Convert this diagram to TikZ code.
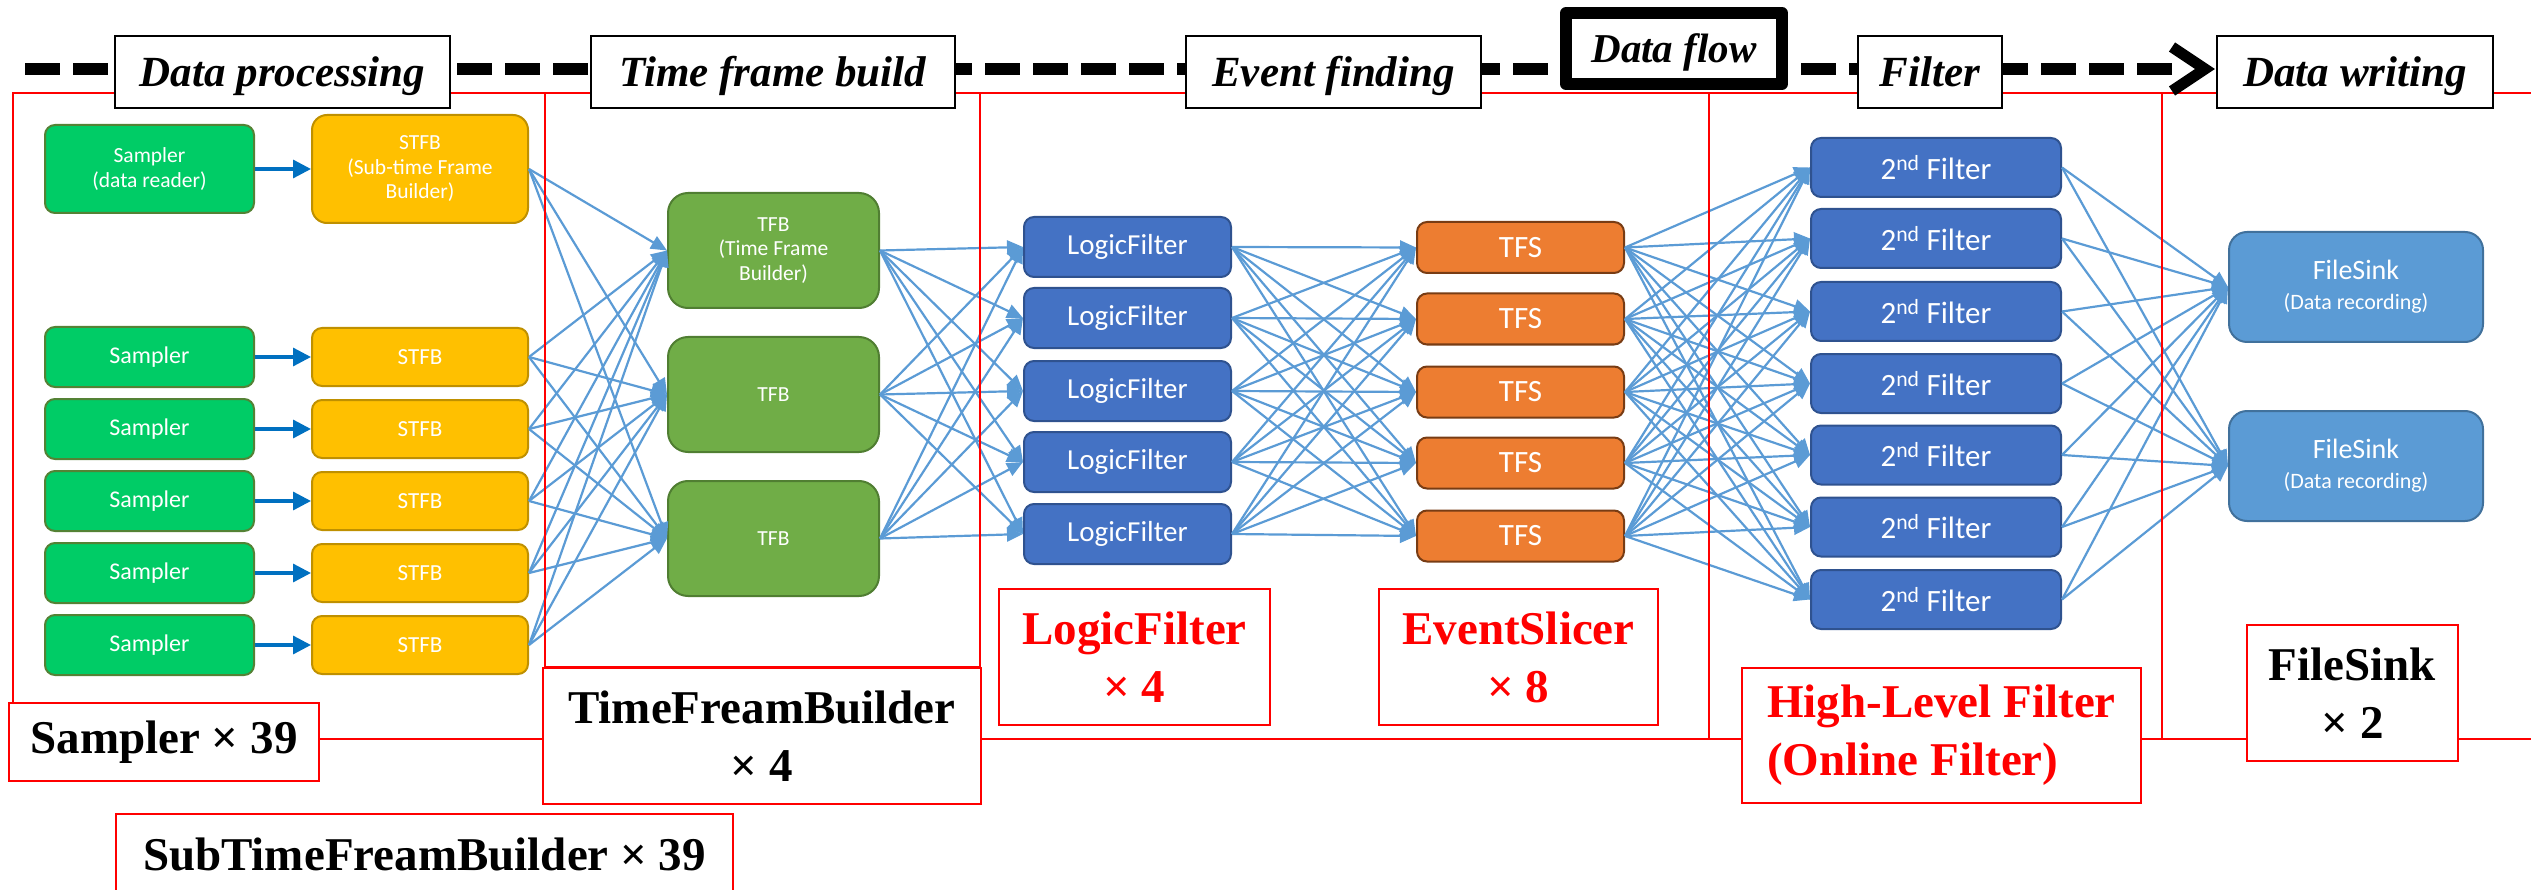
\documentclass[tikz,border=0pt]{standalone}
\usepackage{fontspec}
\setmainfont{Liberation Serif}
\newfontfamily\calfont{Carlito}
\usetikzlibrary{arrows.meta}

\definecolor{smpfill}{RGB}{0,204,102}
\definecolor{smpdraw}{RGB}{84,130,53}
\definecolor{stfbfill}{RGB}{255,192,0}
\definecolor{stfbdraw}{RGB}{191,144,0}
\definecolor{tfbfill}{RGB}{112,173,71}
\definecolor{tfbdraw}{RGB}{80,126,50}
\definecolor{lffill}{RGB}{68,114,196}
\definecolor{lfdraw}{RGB}{47,82,143}
\definecolor{tfsfill}{RGB}{237,125,49}
\definecolor{tfsdraw}{RGB}{120,60,20}
\definecolor{fsfill}{RGB}{91,155,213}
\definecolor{fsdraw}{RGB}{65,113,156}
\definecolor{connblue}{RGB}{91,155,213}
\definecolor{arrblue}{RGB}{0,112,192}

\begin{document}
\begin{tikzpicture}[x=1pt,y=-1pt,
  box/.style={rectangle, rounded corners=10pt, line width=2pt, inner sep=0pt,
    text=white, align=center},
  smp/.style={box, fill=smpfill, draw=smpdraw, minimum width=209pt, minimum height=60pt,
    font=\calfont\fontsize{24}{26}\selectfont},
  stfb/.style={box, fill=stfbfill, draw=stfbdraw, minimum width=216pt, minimum height=58pt,
    font=\calfont\fontsize{23}{25}\selectfont},
  tfb/.style={box, rounded corners=20pt, fill=tfbfill, draw=tfbdraw, minimum width=211pt,
    minimum height=115pt, font=\calfont\fontsize{21.5}{24.5}\selectfont},
  lf/.style={box, fill=lffill, draw=lfdraw, minimum width=207pt, minimum height=60pt,
    font=\calfont\fontsize{29}{31}\selectfont},
  tfs/.style={box, fill=tfsfill, draw=tfsdraw, minimum width=207pt, minimum height=51pt,
    font=\calfont\fontsize{31}{33}\selectfont},
  snd/.style={box, fill=lffill, draw=lfdraw, minimum width=250pt, minimum height=59pt,
    font=\calfont\fontsize{31}{33}\selectfont},
  fsk/.style={box, rounded corners=18pt, fill=fsfill, draw=fsdraw, minimum width=254pt,
    minimum height=110pt, font=\calfont\fontsize{28}{30}\selectfont},
  conn/.style={draw=connblue, line width=2.2pt, -{Triangle[length=16pt,width=14pt]}},
  sarr/.style={draw=arrblue, line width=3.3pt, -{Triangle[length=18pt,width=18pt]}},
  redline/.style={draw=red, line width=2.5pt},
  hdr/.style={rectangle, draw=black, line width=2pt, fill=white, inner sep=0pt,
    minimum height=72pt, text height=32pt, text depth=2pt,
    font=\bfseries\itshape\fontsize{43}{50}\selectfont},
  lbl/.style={rectangle, draw=red, line width=2.5pt, fill=white, inner sep=0pt,
    align=center, font=\bfseries\fontsize{47}{58}\selectfont},
  flowline/.style={draw=black, line width=12pt, dash pattern=on 35pt off 13pt}
]
\useasboundingbox (0,0) rectangle (2531,890);

% ---- Samplers and STFBs
\node[smp, minimum height=88pt, font=\calfont\fontsize{21.5}{24.5}\selectfont] (a1) at (149.5,169) {Sampler\\(data reader)};
\node[stfb, minimum height=108pt, rounded corners=15pt, font=\calfont\fontsize{21.5}{24.5}\selectfont] (s1) at (420,169) {STFB\\(Sub-time Frame\\Builder)};
\foreach \i/\y in {2/357,3/429,4/501,5/573,6/645}{
  \node[smp] (a\i) at (149.5,\y) {Sampler};
  \node[stfb] (s\i) at (420,\y) {STFB};
}
\foreach \i in {1,...,6}{ \draw[sarr] (a\i.east) -- (s\i.west); }

% ---- TFBs
\node[tfb] (t1) at (773.5,250.5) {TFB\\(Time Frame\\Builder)};
\node[tfb] (t2) at (773.5,394.5) {TFB};
\node[tfb] (t3) at (773.5,538.5) {TFB};

% ---- LogicFilters
\foreach \i/\y in {1/247,2/318,3/391,4/462,5/534}{
  \node[lf] (l\i) at (1127.5,\y) {LogicFilter};
}
% ---- TFS
\foreach \i/\y in {1/247.5,2/319,3/392,4/463,5/536}{
  \node[tfs] (f\i) at (1520.5,\y) {TFS};
}
% ---- 2nd Filter
\foreach \i/\y in {1/167.5,2/238.5,3/311.5,4/383.5,5/455,6/527,7/599.5}{
  \node[snd] (h\i) at (1936,\y) {2\textsuperscript{nd} Filter};
}
% ---- FileSink
\node[fsk] (k1) at (2356,287) {FileSink\\{\fontsize{22}{24}\selectfont (Data recording)}};
\node[fsk] (k2) at (2356,466) {FileSink\\{\fontsize{22}{24}\selectfont (Data recording)}};

% ---- connectors
\foreach \i in {1,...,6}{ \foreach \j in {1,2,3}{ \draw[conn] (s\i.east) -- (t\j.west); } }
\foreach \i in {1,2,3}{ \foreach \j in {1,...,5}{ \draw[conn] (t\i.east) -- (l\j.west); } }
\foreach \i in {1,...,5}{ \foreach \j in {1,...,5}{ \draw[conn] (l\i.east) -- (f\j.west); } }
\foreach \i in {1,...,5}{ \foreach \j in {1,...,7}{ \draw[conn] (f\i.east) -- (h\j.west); } }
\foreach \i in {1,...,7}{ \foreach \j in {1,2}{ \draw[conn] (h\i.east) -- (k\j.west); } }

% ---- red section frame
\draw[redline] (13,703) -- (13,93) -- (2531,93);
\draw[redline] (545,93) -- (545,668);
\draw[redline] (980,93) -- (980,668);
\draw[redline] (545,667) -- (980,667);
\draw[redline] (1709,93) -- (1709,739);
\draw[redline] (2162,93) -- (2162,739);
\draw[redline] (319,739) -- (2531,739);

% ---- data flow dashed arrow
\coordinate (flowA) at (25,69);
\coordinate (flowB) at (2185,69);
\draw[flowline] (flowA) -- (flowB);
\draw[line width=11pt, miter limit=10] (2172,47) -- (2205,69) -- (2172,91);

% ---- header boxes
\node[hdr, minimum width=335pt] (hp) at (282.5,72) {Data processing};
\node[hdr, minimum width=364pt] (ht) at (773,72) {Time frame build};
\node[hdr, minimum width=295pt] (he) at (1333.5,72) {Event finding};
\node[hdr, minimum width=144pt] (hf) at (1930,72) {Filter};
\node[hdr, minimum width=276pt] (hw) at (2355,72) {Data writing};
\node[rectangle, draw=black, line width=12pt, line join=round, fill=white, inner sep=0pt,
  minimum width=216pt, minimum height=71pt, text height=30pt, text depth=1pt,
  font=\bfseries\itshape\fontsize{41}{48}\selectfont] (hflow) at (1674,48.5) {Data flow};

% ---- count labels
\node[lbl, minimum width=310pt, minimum height=78pt] (sampLbl) at (164,742) {Sampler × 39};
\node[lbl, minimum width=438pt, minimum height=136pt] (tfbLbl) at (762,736) {TimeFreamBuilder\\× 4};
\node[lbl, minimum width=617pt, minimum height=80pt] (stfbLbl) at (424.5,854) {SubTimeFreamBuilder × 39};
\node[lbl, text=red, minimum width=271pt, minimum height=136pt] (lfLbl) at (1134.5,657) {LogicFilter\\× 4};
\node[lbl, text=red, minimum width=279pt, minimum height=136pt] (esLbl) at (1518.5,657) {EventSlicer\\× 8};
\node[lbl, text=red, align=left, minimum width=399pt, minimum height=135pt] (hlfLbl) at (1941.5,735.5) {High-Level Filter\\(Online Filter)};
\node[lbl, minimum width=211pt, minimum height=136pt] (fsLbl) at (2352.5,693) {FileSink\\× 2};
\end{tikzpicture}
\end{document}
